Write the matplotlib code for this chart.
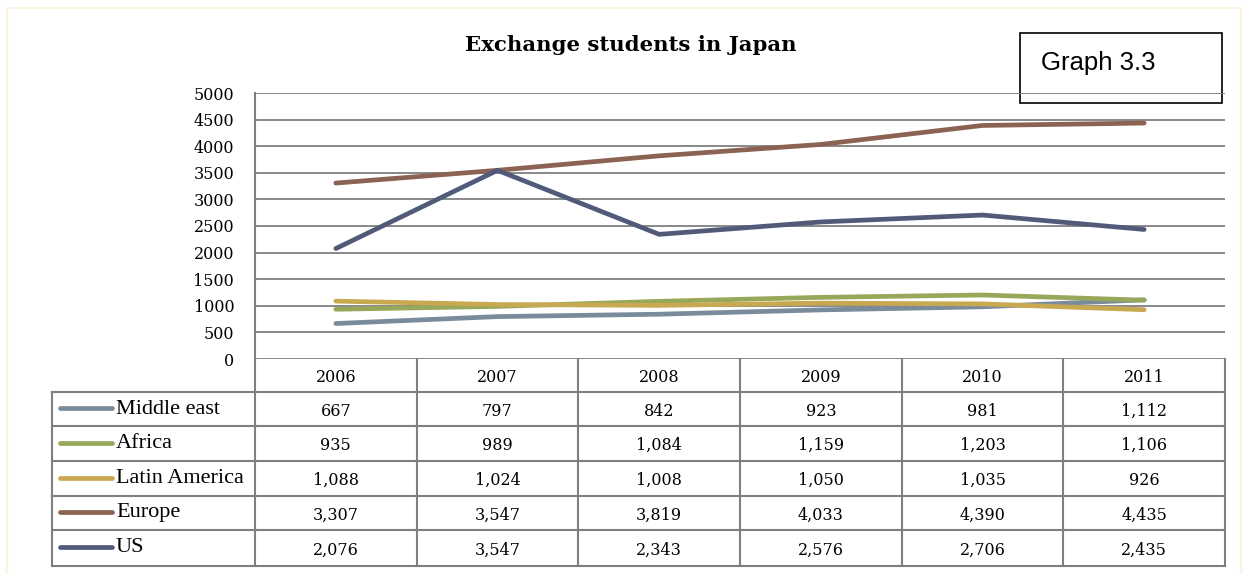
import matplotlib.pyplot as plt
from matplotlib.patches import Rectangle

years = [2006, 2007, 2008, 2009, 2010, 2011]
regions = ["Middle east", "Africa", "Latin America", "Europe", "US"]
middle_east = [667, 797, 842, 923, 981, 1112]
africa = [935, 989, 1084, 1159, 1203, 1106]
latin_america = [1088, 1024, 1008, 1050, 1035, 926]
europe = [3307, 3547, 3819, 4033, 4390, 4435]
us = [2076, 3547, 2343, 2576, 2706, 2435]
series = [middle_east, africa, latin_america, europe, us]
colors = ["#7a8c9c", "#98a85a", "#c8a850", "#8c6252", "#515a79"]
yticks = list(range(0, 5001, 500))

W, H = 1244, 574
serif = "Liberation Serif"
numfont = "DejaVu Serif"
grid_c = "#7f7f7f"

fig = plt.figure(figsize=(W / 100, H / 100), dpi=100)
fig.patch.set_facecolor("white")

# pixel-space overlay for table, frame and title
pix = fig.add_axes([0, 0, 1, 1])
pix.set_xlim(0, W)
pix.set_ylim(H, 0)
pix.axis("off")

# plot area
x0, x1, ytop, ybot = 255, 1225, 93, 359
ax = fig.add_axes([x0 / W, 1 - ybot / H, (x1 - x0) / W, (ybot - ytop) / H])
ax.set_xlim(-0.5, len(years) - 0.5)
ax.set_ylim(0, 5000)
ax.set_yticks(yticks)
ax.set_yticklabels([str(v) for v in yticks], fontfamily=numfont, fontsize=11.5)
ax.set_xticks([])
ax.tick_params(axis="y", length=0, pad=15)
for s in ["top", "right", "bottom"]:
    ax.spines[s].set_visible(False)
ax.spines["left"].set_color(grid_c)
ax.spines["left"].set_linewidth(1.5)
ax.grid(axis="y", color=grid_c, linewidth=1.3)
ax.set_axisbelow(True)
ax.patch.set_alpha(0)

for vals, c in zip(series, colors):
    ax.plot(range(len(years)), vals, color=c, linewidth=3.4, solid_capstyle="round")

# cream outer frame
pix.add_patch(Rectangle((7, 8), W - 10, H, fill=False, edgecolor="#fdf3e2", linewidth=1.5))

pix.text(631, 45, "Exchange students in Japan", ha="center", va="center",
         fontfamily=numfont, fontsize=15.3, fontweight="bold")

# "Graph 3.3" box
pix.add_patch(Rectangle((1020, 33), 202, 70, facecolor="white", edgecolor="black",
                        linewidth=1.2, zorder=5))
pix.text(1041, 63, "Graph 3.3", ha="left", va="center", fontfamily="Liberation Sans",
         fontsize=18.5, zorder=6)

# data table
col_edges = [x0 + i * (x1 - x0) / len(years) for i in range(len(years) + 1)]
row_edges = [359, 392, 426, 461, 496, 530, 566]
lw = 1.5
for xe in col_edges:
    pix.plot([xe, xe], [row_edges[0], row_edges[-1]], color=grid_c, lw=lw)
pix.plot([52, 52], [row_edges[1], row_edges[-1]], color=grid_c, lw=lw)
for ye in row_edges[1:]:
    pix.plot([52, x1], [ye, ye], color=grid_c, lw=lw)

centers = [(col_edges[i] + col_edges[i + 1]) / 2 for i in range(len(years))]
for cx, yr in zip(centers, years):
    pix.text(cx, (row_edges[0] + row_edges[1]) / 2 + 2, str(yr), ha="center", va="center",
             fontfamily=numfont, fontsize=11.5)

for r, (name, vals, c) in enumerate(zip(regions, series, colors)):
    yc = (row_edges[r + 1] + row_edges[r + 2]) / 2
    pix.plot([60, 112], [yc - 1, yc - 1], color=c, lw=3.4, solid_capstyle="round")
    pix.text(116, yc, name, ha="left", va="center", fontfamily=serif, fontsize=16)
    for cx, v in zip(centers, vals):
        pix.text(cx, yc + 2, f"{v:,}", ha="center", va="center", fontfamily=numfont,
                 fontsize=11.5)

fig.savefig("out.png", dpi=100)
